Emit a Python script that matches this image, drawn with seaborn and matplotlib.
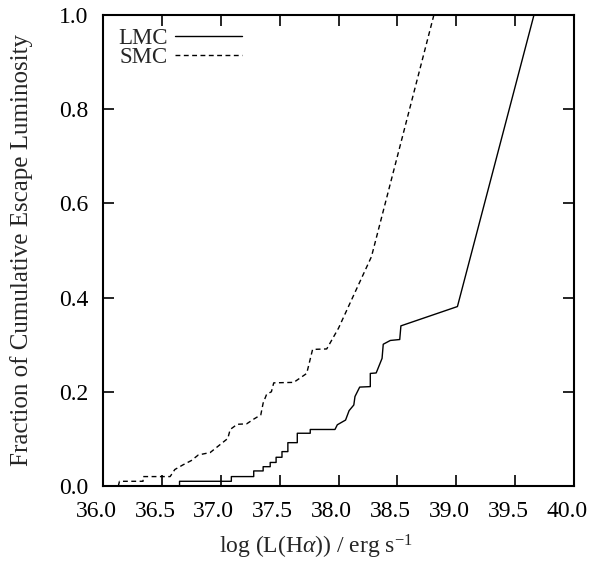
import matplotlib
matplotlib.use("Agg")
import matplotlib.pyplot as plt
import matplotlib.transforms as mtransforms
import seaborn as sns
import pandas as pd

# LMC cumulative escape luminosity fraction
lmc_x = [36.65, 36.65, 37.09, 37.09, 37.28, 37.28, 37.36, 37.36, 37.42, 37.42,
         37.47, 37.47, 37.52, 37.52, 37.57, 37.57, 37.65, 37.65, 37.76, 37.76,
         37.97, 37.99, 38.06, 38.09, 38.13, 38.14, 38.18, 38.27, 38.27, 38.32,
         38.37, 38.38, 38.44, 38.52, 38.53, 39.01, 39.66]
lmc_y = [0.000, 0.010, 0.010, 0.020, 0.020, 0.032, 0.032, 0.041, 0.041, 0.050,
         0.050, 0.061, 0.061, 0.073, 0.073, 0.092, 0.092, 0.112, 0.112, 0.120,
         0.120, 0.130, 0.140, 0.160, 0.172, 0.190, 0.210, 0.211, 0.239, 0.240,
         0.271, 0.301, 0.309, 0.311, 0.340, 0.381, 1.000]

# SMC
smc_x = [36.13, 36.14, 36.34, 36.34, 36.57, 36.61, 36.68, 36.75, 36.81, 36.91,
         36.97, 37.06, 37.08, 37.14, 37.22, 37.28, 37.34, 37.36, 37.39, 37.43,
         37.45, 37.62, 37.73, 37.78, 37.90, 38.00, 38.09, 38.28, 38.81]
smc_y = [0.000, 0.010, 0.010, 0.020, 0.020, 0.035, 0.045, 0.054, 0.066, 0.071,
         0.083, 0.101, 0.120, 0.131, 0.132, 0.142, 0.151, 0.176, 0.195, 0.200,
         0.219, 0.220, 0.239, 0.290, 0.291, 0.335, 0.384, 0.487, 1.000]

series_names = ["LMC", "SMC"]
xticks = [36.0, 36.5, 37.0, 37.5, 38.0, 38.5, 39.0, 39.5, 40.0]
yticks = [0.0, 0.2, 0.4, 0.6, 0.8, 1.0]

sns.set_style("ticks")
plt.rcParams["font.family"] = ["Liberation Serif", "DejaVu Serif"]
plt.rcParams["mathtext.fontset"] = "custom"
plt.rcParams["mathtext.rm"] = "Liberation Serif"
plt.rcParams["mathtext.it"] = "Liberation Serif:italic"

fig = plt.figure(figsize=(6.11, 5.65), dpi=100)
ax = fig.add_axes([103/611, 1-486/565, (574-103)/611, (486-15)/565])

df = pd.concat([
    pd.DataFrame({"x": lmc_x, "y": lmc_y, "series": series_names[0]}),
    pd.DataFrame({"x": smc_x, "y": smc_y, "series": series_names[1]}),
], ignore_index=True)

sns.lineplot(data=df, x="x", y="y", hue="series", style="series",
             palette={"LMC": "black", "SMC": "black"},
             dashes={"LMC": "", "SMC": (3.5, 2.5)},
             sort=False, estimator=None, linewidth=1.0, ax=ax)

ax.set_xlim(36.0, 40.0)
ax.set_ylim(0.0, 1.0)
ax.set_xticks(xticks)
ax.set_yticks(yticks)
ax.set_xticklabels([f"{t:.1f}" for t in xticks])
ax.set_yticklabels([f"{t:.1f}" for t in yticks])
ax.tick_params(direction="in", length=8, width=1.2, top=True, right=True,
               labelsize=17, colors="black")
ax.tick_params(axis="x", pad=11)
ax.tick_params(axis="y", pad=10.5)
shift = mtransforms.ScaledTranslation(-7/100, 0, fig.dpi_scale_trans)
for lab in ax.get_xticklabels():
    lab.set_transform(lab.get_transform() + shift)
for s in ax.spines.values():
    s.set_linewidth(1.5)
    s.set_color("black")

ax.set_xlabel(r"log (L(H$\alpha$)) / erg s$^{-1}$", fontsize=17)
ax.xaxis.set_label_coords(0.452, -0.1)
ax.set_ylabel("Fraction of Cumulative Escape Luminosity", fontsize=18)
ax.yaxis.set_label_coords(-0.148, 0.5)

leg = ax.legend(loc="upper left", bbox_to_anchor=(0.0, 1.005),
                frameon=False, markerfirst=False,
                handlelength=2.9, fontsize=16.5, borderaxespad=0.25, borderpad=0.4,
                handletextpad=0.35, labelspacing=-0.05)

fig.savefig("out.png", dpi=100)
